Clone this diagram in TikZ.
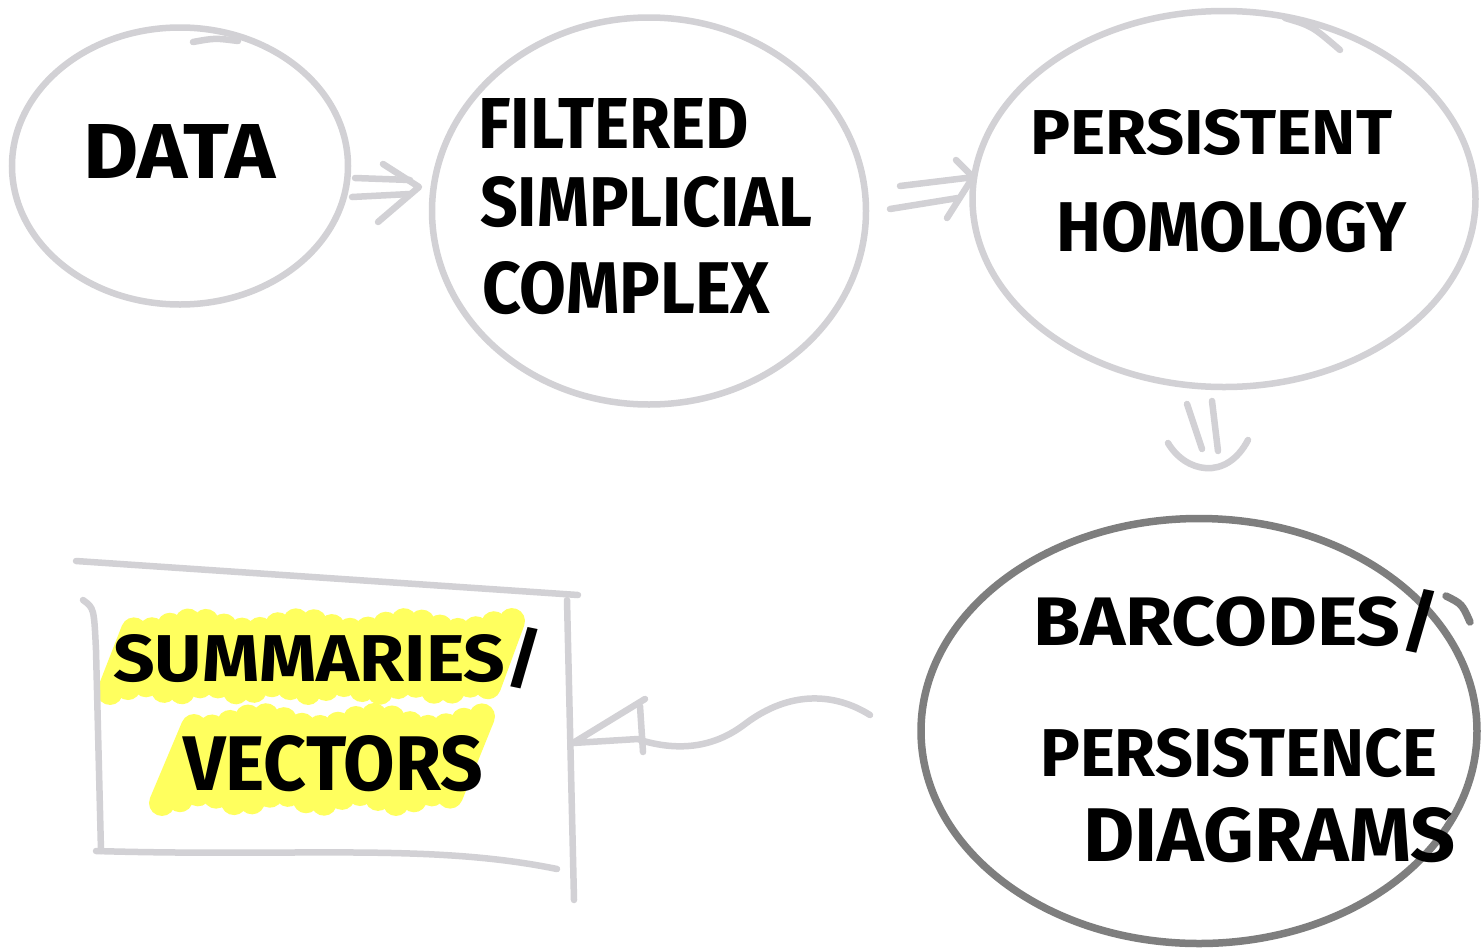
\documentclass[tikz,border=0pt]{standalone}
\usepackage{fontspec}
\setmainfont{Fira Sans}
\usetikzlibrary{shapes.geometric,calc}
\definecolor{pencil}{HTML}{D2D1D5}
\definecolor{marker}{HTML}{7E7E7E}
\definecolor{hilite}{HTML}{FFFF5E}
% a word stretched to a given width and cap height
\newcommand\fitword[3]{\resizebox{#1}{#2}{\bfseries #3}}

\begin{document}
\begin{tikzpicture}[x=1pt,y=-1pt,
  bubble/.style={ellipse, draw=pencil, line width=6.5pt, inner sep=0pt},
  darkbubble/.style={ellipse, draw=marker, line width=7.5pt, inner sep=0pt},
  stroke/.style={draw=pencil, line width=6.5pt, line cap=round, line join=round},
  word/.style={inner sep=0pt, anchor=base west, text=black},
  hl/.style={draw=hilite, line width=26pt, line cap=round},
]
\useasboundingbox[fill=white] (0,0) rectangle (1481,951);

% ---- highlighter behind the summary words
\foreach \x [count=\i] in {122,140,...,512}
  \draw[hl] ({\x-12},{688+4*sin(\i*97)}) -- ({\x+12},{626+5*sin(\i*61)});
\foreach \x [count=\i] in {178,196,...,478}
  \draw[hl] ({\x-16},{798+5*sin(\i*83)}) -- ({\x+16},{722+6*sin(\i*57)});

% ---- the five stages
\node[bubble, minimum width=336pt, minimum height=277pt] (data) at (180,166) {};
\node[bubble, minimum width=434pt, minimum height=387pt] (filt) at (649,211) {};
\node[bubble, minimum width=503pt, minimum height=376pt] (hom) at (1224,199) {};
\node[darkbubble, minimum width=556pt, minimum height=425pt] (bars) at (1199,731) {};

% small overshoots where the loops were closed
\draw[stroke] (193,42) .. controls (215,38) .. (238,41);
\draw[stroke] (1285,18) .. controls (1312,26) .. (1340,50);
\draw[draw=marker, line width=7.5pt, line cap=round] (1446,596) .. controls (1462,604) .. (1470,622);

% sketched box for the summaries
\draw[stroke] (76,561) -- (578,595);
\draw[stroke] (567,600) -- (574,900);
\draw[stroke] (83,600) .. controls (94,608) .. (96,650) -- (101,851);
\draw[stroke] (96,851) .. controls (300,857) and (430,843) .. (557,869);

% ---- labels
\node[word] (tdata) at (83,178) {\fitword{192pt}{54pt}{DATA}};
\node[word] (tf1) at (478,148) {\fitword{270pt}{50pt}{FILTERED}};
\node[word] (tf2) at (480,226) {\fitword{332pt}{50pt}{SIMPLICIAL}};
\node[word] (tf3) at (482,313) {\fitword{288pt}{52pt}{COMPLEX}};
\node[word] (th1) at (1030,154) {\fitword{362pt}{45pt}{PERSISTENT}};
\node[word] (th2) at (1056,251) {\fitword{350pt}{50pt}{HOMOLOGY}};
\node[word] (tb1) at (1033,645) {\fitword{407pt}{56pt}{BARCODES/}};
\node[word] (tb2) at (1040,776) {\fitword{397pt}{48pt}{PERSISTENCE}};
\node[word] (tb3) at (1083,861) {\fitword{372pt}{54pt}{DIAGRAMS}};
\node[word] (ts1) at (113,681) {\fitword{430pt}{54pt}{SUMMARIES/}};
\node[word] (ts2) at (183,790) {\fitword{300pt}{55pt}{VECTORS}};

% ---- double arrows between the stages
\coordinate (d1a) at (355,178);  \coordinate (f1a) at (410,180);
\coordinate (d1b) at (352,197);  \coordinate (f1b) at (410,194);
\draw[stroke] (d1a) -- (f1a);
\draw[stroke] (d1b) -- (f1b);
\draw[stroke] (383,164) -- (419,187) -- (378,222);

\coordinate (f2a) at (900,186);  \coordinate (h2a) at (966,178);
\coordinate (f2b) at (890,209);  \coordinate (h2b) at (958,198);
\draw[stroke] (f2a) -- (h2a);
\draw[stroke] (f2b) -- (h2b);
\draw[stroke] (956,160) -- (973,177) -- (947,218);

\coordinate (h3a) at (1187,404); \coordinate (b3a) at (1202,449);
\coordinate (h3b) at (1212,401); \coordinate (b3b) at (1218,451);
\draw[stroke] (h3a) -- (b3a);
\draw[stroke] (h3b) -- (b3b);
\draw[stroke] (1168,443) .. controls (1185,472) and (1226,482) .. (1248,440);

% ---- wavy arrow back to the box
\coordinate (wstart) at (870,715);
\coordinate (wend) at (640,740);
\draw[stroke] (wstart) .. controls (835,693) and (790,690) .. (745,724)
  .. controls (715,747) and (680,752) .. (wend);
\draw[stroke] (645,699) -- (573,743) -- (638,739);
\draw[stroke] (640,706) -- (643,752);
\end{tikzpicture}
\end{document}
